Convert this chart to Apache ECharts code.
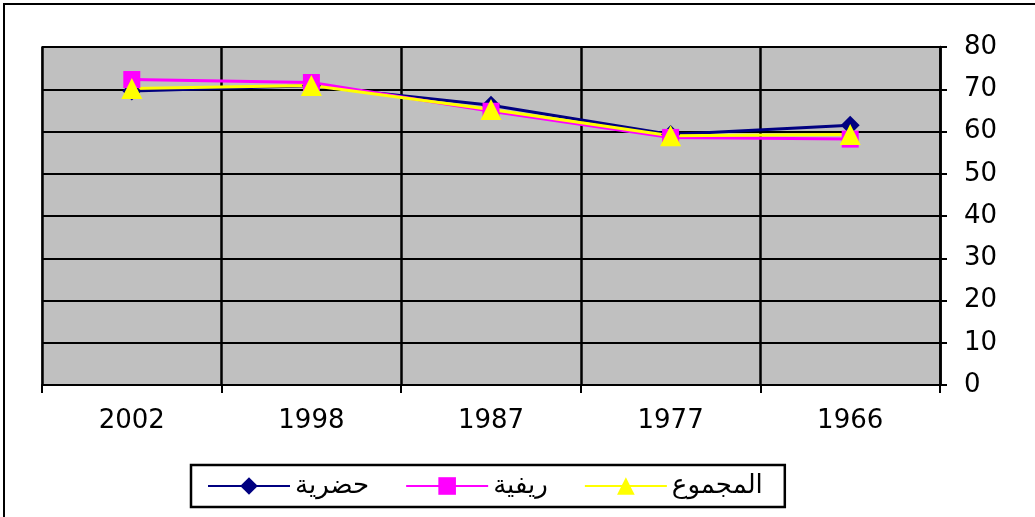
<!DOCTYPE html>
<html>
<head>
<meta charset="utf-8">
<script src="https://cdn.jsdelivr.net/npm/echarts@6/dist/echarts.min.js"></script>
<style>
  body { margin: 0; background: #fff; }
  #main { width: 1035px; height: 517px; }
</style>
</head>
<body>
<div id="main"></div>
<script>
// 資料
const years = ['2002', '1998', '1987', '1977', '1966'];
const urban = [69.6, 70.8, 66.2, 59.3, 61.5];   // حضرية
const rural = [72.3, 71.6, 64.8, 58.6, 58.2];   // ريفية
const total = [70.2, 70.9, 65.2, 59.0, 59.3];   // المجموع
const yTicks = { min: 0, max: 80, interval: 10 };

const chart = echarts.init(document.getElementById('main'));

const option = {
  animation: false,
  textStyle: { fontFamily: 'DejaVu Sans, sans-serif' },
  graphic: [
    {
      type: 'rect',
      shape: { x: 4, y: 4, width: 1060, height: 540 },
      style: { fill: null, stroke: '#000', lineWidth: 2 },
      silent: true
    }
  ],
  grid: {
    left: 42, right: 95, top: 47, bottom: 132,
    show: true,
    backgroundColor: '#c0c0c0',
    borderColor: '#808080',
    borderWidth: 2
  },
  legend: {
    left: 191, top: 465,
    padding: [8, 22, 8, 16],
    itemGap: 36,
    itemWidth: 82,
    itemHeight: 22,
    borderColor: '#000',
    borderWidth: 2.5,
    backgroundColor: '#fff',
    textStyle: { fontSize: 26, color: '#000', fontFamily: 'DejaVu Sans, sans-serif' },
    data: ['حضرية', 'ريفية', 'المجموع']
  },
  xAxis: {
    type: 'category',
    data: years,
    boundaryGap: true,
    axisLine: { lineStyle: { color: '#000', width: 2 } },
    axisTick: { show: true, length: 8, lineStyle: { color: '#000', width: 2 } },
    axisLabel: { fontSize: 26, color: '#000', margin: 23 },
    splitLine: { show: true, lineStyle: { color: '#000', width: 2.5 } }
  },
  yAxis: {
    type: 'value',
    position: 'right',
    min: yTicks.min, max: yTicks.max, interval: yTicks.interval,
    axisLine: { show: true, lineStyle: { color: '#000', width: 2.5 } },
    axisTick: { show: true, inside: false, length: 7, lineStyle: { color: '#000', width: 2 } },
    axisLabel: { fontSize: 26, color: '#000', margin: 24 },
    splitLine: { show: true, lineStyle: { color: '#000', width: 2 } }
  },
  series: [
    {
      name: 'حضرية',
      type: 'line',
      data: urban,
      symbol: 'diamond',
      symbolSize: 19,
      color: '#000080',
      lineStyle: { width: 3, color: '#000080' },
      itemStyle: { color: '#000080' }
    },
    {
      name: 'ريفية',
      type: 'line',
      data: rural,
      symbol: 'rect',
      symbolSize: 17,
      color: '#ff00ff',
      lineStyle: { width: 3, color: '#ff00ff' },
      itemStyle: { color: '#ff00ff' }
    },
    {
      name: 'المجموع',
      type: 'line',
      data: total,
      symbol: 'triangle',
      symbolSize: 21,
      color: '#ffff00',
      lineStyle: { width: 3, color: '#ffff00' },
      itemStyle: { color: '#ffff00' }
    }
  ]
};

chart.setOption(option);
</script>
</body>
</html>
